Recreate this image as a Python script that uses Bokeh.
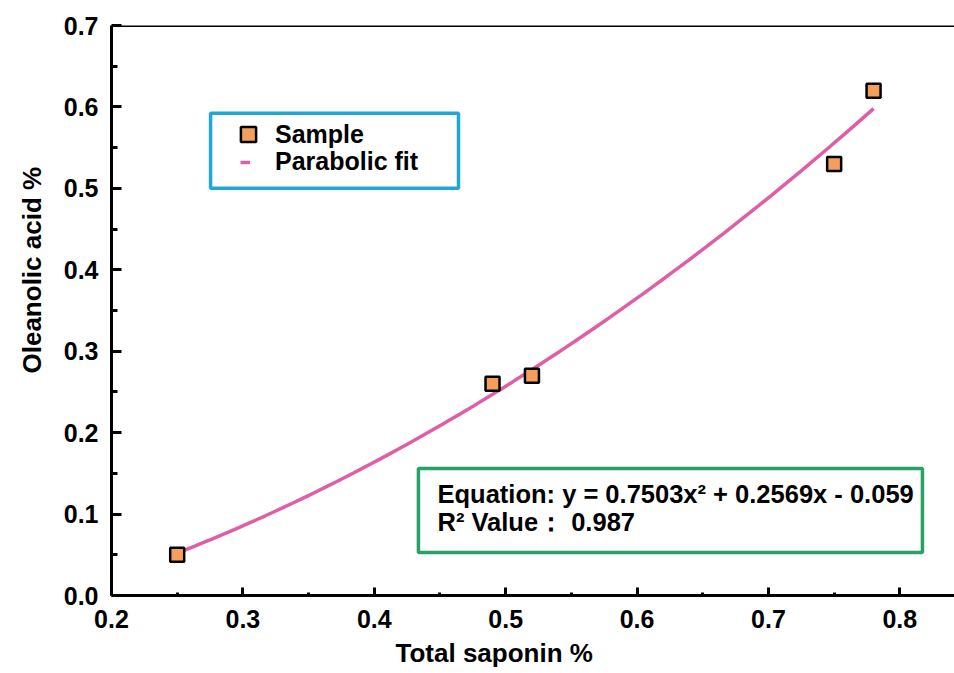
import numpy as np
from bokeh.plotting import figure
from bokeh.models import (Range1d, FixedTicker, PrintfTickFormatter, Span, Title,
                          Legend, LegendItem, BoxAnnotation, Label)
from bokeh.embed import file_html
from bokeh.resources import INLINE

# ---- data ----
sample_x = [0.25, 0.49, 0.52, 0.75, 0.78]
sample_y = [0.05, 0.26, 0.27, 0.53, 0.62]

# parabolic fit as printed on the chart: y = a x^2 + b x + c
fit_a, fit_b, fit_c = 0.7503, 0.2569, -0.059
fit_x_start, fit_x_end = 0.25, 0.78

x_ticks = [0.2, 0.3, 0.4, 0.5, 0.6, 0.7, 0.8]
x_minor = [0.25, 0.35, 0.45, 0.55, 0.65, 0.75]
y_ticks = [0.0, 0.1, 0.2, 0.3, 0.4, 0.5, 0.6, 0.7]
y_minor = [0.05, 0.15, 0.25, 0.35, 0.45, 0.55, 0.65]

x_label = "Total saponin %"
y_label = "Oleanolic acid %"
eq_line1 = "Equation: y = 0.7503x\u00b2 + 0.2569x - 0.059"
eq_line2 = "R\u00b2 Value\uff1a 0.987"

FONT = "Liberation Sans"
ORANGE = "#F4A05C"
PINK = "#DF5FA7"
CYAN = "#1FA8D6"
GREEN = "#28A167"

fit_x = np.linspace(fit_x_start, fit_x_end, 80)
fit_y = fit_a * fit_x ** 2 + fit_b * fit_x + fit_c

p = figure(width=954, height=673, output_backend="svg", toolbar_location=None,
           x_range=Range1d(0.2, 0.8416), y_range=Range1d(0.0, 0.7),
           min_border_left=111, min_border_right=0, min_border_top=25,
           min_border_bottom=78)
p.outline_line_color = None
p.grid.visible = False
p.background_fill_color = "white"

# axes
for ax in (p.xaxis[0], p.yaxis[0]):
    ax.axis_line_width = 3
    ax.axis_line_color = "black"
    ax.major_tick_out = 0
    ax.minor_tick_out = 0
    ax.major_tick_line_width = 3
    ax.minor_tick_line_width = 3
    ax.major_label_text_font = FONT
    ax.major_label_text_font_style = "bold"
    ax.major_label_text_font_size = "25px"
    ax.major_label_text_color = "black"
    ax.formatter = PrintfTickFormatter(format="%.1f")

p.xaxis[0].ticker = FixedTicker(ticks=x_ticks, minor_ticks=x_minor)
p.yaxis[0].ticker = FixedTicker(ticks=y_ticks, minor_ticks=y_minor)
p.xaxis[0].major_tick_in = 8
p.xaxis[0].minor_tick_in = 3
p.yaxis[0].major_tick_in = 10
p.yaxis[0].minor_tick_in = 6
p.xaxis[0].major_label_standoff = 14
p.yaxis[0].major_label_standoff = 13

# axis titles (offset along the axis, as in the reference)
p.add_layout(Title(text=x_label, align="left", offset=284, standoff=11,
                   text_font=FONT, text_font_style="bold", text_font_size="26px",
                   text_color="black"), "below")
p.add_layout(Title(text=y_label, align="left", offset=222, standoff=27,
                   text_font=FONT, text_font_style="bold", text_font_size="26px",
                   text_color="black"), "left")

# top frame line
p.add_layout(Span(location=0.7, dimension="width", line_color="black", line_width=3))

# fit and samples
ln = p.line(fit_x, fit_y, line_color=PINK, line_width=3.5)
sc = p.scatter(sample_x, sample_y, marker="square", size=14, fill_color=ORANGE,
               line_color="black", line_width=2.5)

# legends (two, so each glyph gets its own size)
common = dict(padding=0, margin=0, spacing=0, border_line_color=None,
              background_fill_alpha=0, label_text_font=FONT,
              label_text_font_style="bold", label_text_font_size="25px",
              label_text_color="black")
leg1 = Legend(items=[LegendItem(label="Sample", renderers=[sc])],
              location=(118, 442), glyph_width=38, glyph_height=38,
              label_height=38, label_standoff=8, **common)
leg2 = Legend(items=[LegendItem(label="Parabolic fit", renderers=[ln])],
              location=(129, 419), glyph_width=10, glyph_height=28,
              label_height=28, label_standoff=25, **common)
p.add_layout(leg1, "center")
p.add_layout(leg2, "center")
p.add_layout(BoxAnnotation(left=0.2754, right=0.4641, bottom=0.5, top=0.5921,
                           fill_alpha=0, line_color=CYAN, line_alpha=1, line_width=3.5))

# equation box
p.add_layout(BoxAnnotation(left=0.4336, right=0.8172, bottom=0.0528, top=0.156,
                           fill_alpha=0, line_color=GREEN, line_alpha=1, line_width=3.5))
for txt, yy in ((eq_line1, 0.1241), (eq_line2, 0.0897)):
    p.add_layout(Label(x=0.4481, y=yy, text=txt, text_font=FONT,
                       text_font_style="bold", text_font_size="25.5px",
                       text_baseline="middle", text_align="left", text_color="black"))

open("out.html", "w").write(file_html(p, INLINE))
